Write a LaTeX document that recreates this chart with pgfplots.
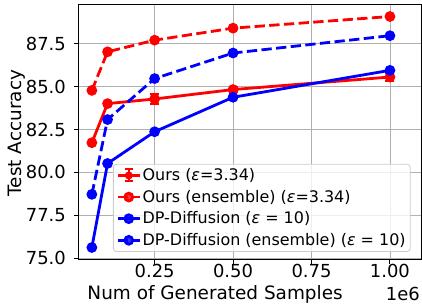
\documentclass[border=0pt]{standalone}
\usepackage{fontspec}
\setmainfont{DejaVu Sans}
\usepackage{pgfplots}
\pgfplotsset{compat=1.18}
\begin{document}
\begin{tikzpicture}
\useasboundingbox (-79bp,-45bp) rectangle (343bp,259bp);
\begin{axis}[
  at={(0,0)}, anchor=south west,
  scale only axis, width=342bp, height=254bp,
  xmin=0.009, xmax=1.099, ymin=74.95, ymax=89.76,
  xtick={0.25,0.5,0.75,1.0},
  xticklabels={0.25,0.50,0.75,1.00},
  ytick={75,77.5,80,82.5,85,87.5},
  yticklabels={75.0,77.5,80.0,82.5,85.0,87.5},
  scaled x ticks=false,
  grid=major, grid style={color={rgb,255:red,176;green,176;blue,176}, line width=0.8bp},
  tick align=outside, major tick length=5bp,
  tick pos=left,
  tick style={black, line width=0.9bp},
  axis line style={black, line width=1bp},
  tick label style={font=\fontsize{18}{18}\selectfont, inner sep=0pt},
  xticklabel style={anchor=base, yshift=-13bp},
  yticklabel style={anchor=east, xshift=-8bp},
  xlabel={Num of Generated Samples},
  ylabel={Test Accuracy},
  label style={font=\fontsize{18.5}{18.5}\selectfont, inner sep=0pt},
  xlabel style={at={(axis description cs:0.398,-0.1575)}, anchor=base},
  ylabel style={at={(axis description cs:-0.1667,0.496)}, anchor=base},
  legend cell align=left,
  legend style={at={(axis description cs:0.0994,0.0276)}, anchor=south west,
    draw={rgb,255:red,204;green,204;blue,204}, line width=0.8bp, rounded corners=3bp,
    fill=white, fill opacity=0.8, text opacity=1,
    font=\fontsize{16}{16}\selectfont, inner sep=3bp,
    nodes={inner sep=1.5bp},
    row sep=5bp,
    /tikz/every even column/.append style={column sep=1bp}},
  legend image code/.code={
    \draw[#1] (0bp,0bp) -- (22bp,0bp);
    \draw[#1, solid] plot coordinates {(11bp,0bp)};
  },
  every axis plot/.append style={line width=2.8bp, mark=*, mark size=3.9bp, mark options={solid}},
]
% Ours
\addplot[red, error bars/.cd, y dir=both, y explicit,
  error bar style={line width=2bp, solid},
  error mark options={rotate=90, mark size=4.5bp, line width=2bp, red}]
  [legend image code/.code={
    \draw[red, line width=2.8bp] (0bp,0bp) -- (22bp,0bp);
    \draw[red, line width=2bp] (11bp,-6bp) -- (11bp,6bp);
    \draw[red, line width=2bp] (7bp,-6bp) -- (15bp,-6bp);
    \draw[red, line width=2bp] (7bp,6bp) -- (15bp,6bp);
    \fill[red] (11bp,0bp) circle (2.5bp);
  }]
  coordinates {
  (0.05,81.73) +- (0,0)
  (0.1,84.01) +- (0,0)
  (0.25,84.28) +- (0,0.29)
  (0.5,84.83) +- (0,0.12)
  (1.0,85.56) +- (0,0.21)
};
\addlegendentry{Ours ({\itshape ε}=3.34)}
% Ours ensemble
\addplot[red, dash pattern=on 10.3bp off 4.4bp] coordinates {
  (0.05,84.78) (0.1,87.03) (0.25,87.71) (0.5,88.41) (1.0,89.09)
};
\addlegendentry{Ours (ensemble) ({\itshape ε}=3.34)}
% DP-Diffusion
\addplot[blue] coordinates {
  (0.05,75.62) (0.1,80.52) (0.25,82.37) (0.5,84.38) (1.0,85.95)
};
\addlegendentry{DP-Diffusion ({\itshape ε} = 10)}
% DP-Diffusion ensemble
\addplot[blue, dash pattern=on 10.3bp off 4.4bp] coordinates {
  (0.05,78.72) (0.1,83.08) (0.25,85.47) (0.5,86.96) (1.0,87.97)
};
\addlegendentry{DP-Diffusion (ensemble) ({\itshape ε} = 10)}
\end{axis}
\node[anchor=base east, inner sep=0pt, font=\fontsize{18}{18}\selectfont]
  at (current axis.south east) [yshift=-41.5bp, xshift=-1bp] {1e6};
\end{tikzpicture}
\end{document}
